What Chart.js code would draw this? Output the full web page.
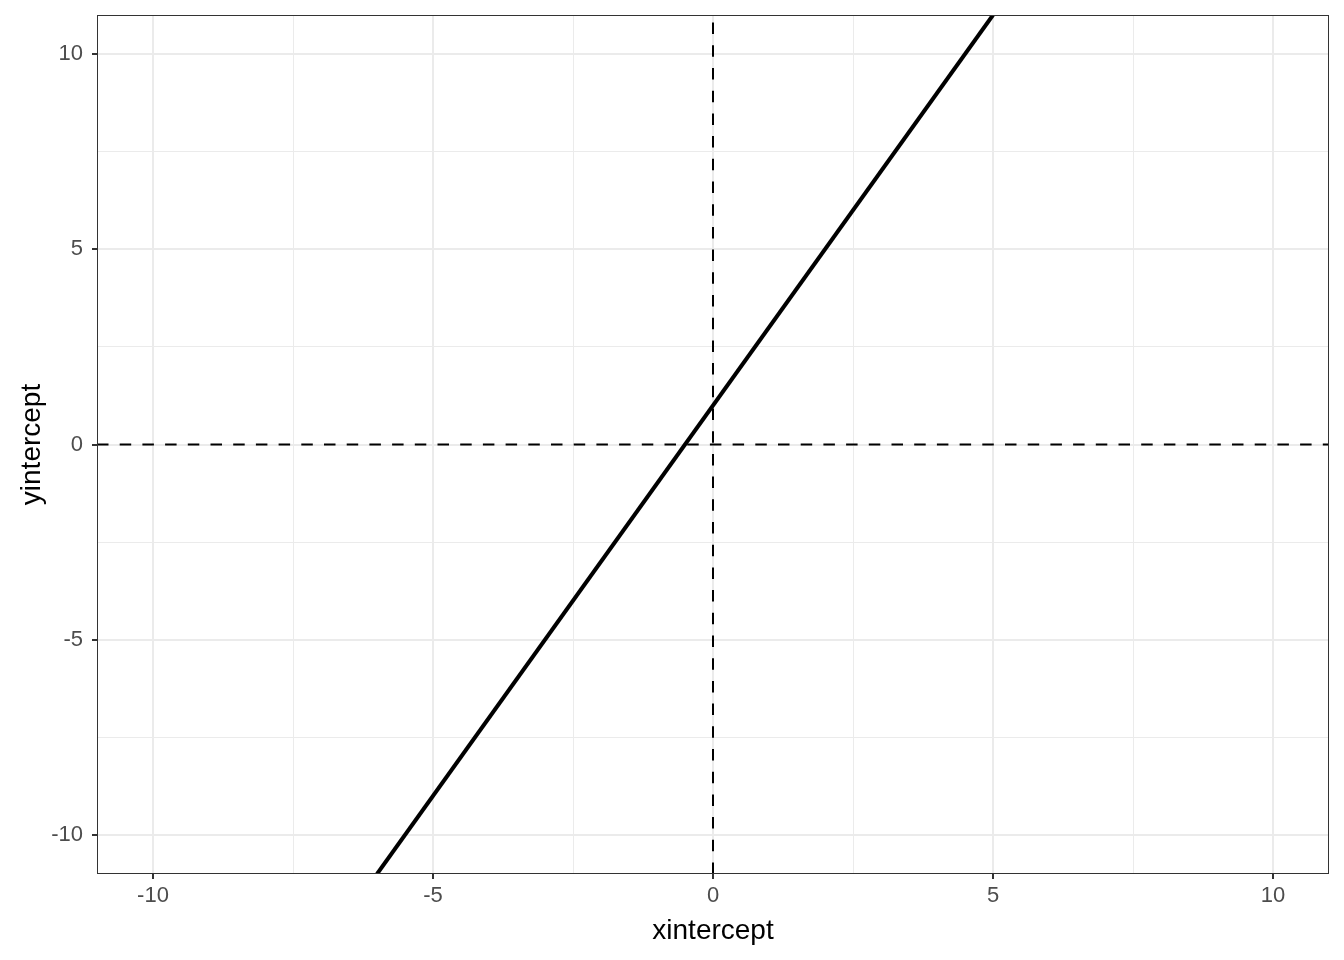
<!DOCTYPE html>
<html>
<head>
<meta charset="utf-8">
<script src="https://cdn.jsdelivr.net/npm/chart.js@4/dist/chart.umd.min.js"></script>
<style>
  html, body { margin: 0; padding: 0; background: #fff; }
  #wrap { width: 1344px; height: 960px; }
</style>
</head>
<body>
<div id="wrap"><canvas id="chart" width="1344" height="960"></canvas></div>
<script>
// slanted line y = 2x + 1 at the panel edges
const lineX = [-6, 5]
const lineY = [-11, 11]

// dashed reference lines
const vlineX = [0, 0]
const vlineY = [-11, 11]
const hlineX = [-11, 11]
const hlineY = [0, 0]

const axisMin = -11
const axisMax = 11
const gridStep = 2.5
const labelStep = 5

const toPoints = (xs, ys) => xs.map((x, i) => ({ x: x, y: ys[i] }))
const isMajor = (v) => Math.abs(v % labelStep) < 1e-9

const FONT = "'Liberation Sans', Arial, Helvetica, sans-serif"

// panel border like theme_bw
const panelBorder = {
  id: "panelBorder",
  afterDatasetsDraw(chart) {
    const { ctx, chartArea: a } = chart
    ctx.save()
    ctx.strokeStyle = "#333333"
    ctx.lineWidth = 1
    ctx.strokeRect(a.left + 0.5, a.top + 0.5, a.right - a.left - 1, a.bottom - a.top - 1)
    ctx.restore()
  },
}

const gridOpts = {
  color: "#ebebeb",
  lineWidth: (c) => (c.tick && isMajor(c.tick.value) ? 2 : 1),
  drawTicks: true,
  tickLength: 5,
  tickWidth: 2,
  tickColor: (c) => (c.tick && isMajor(c.tick.value) ? "#333333" : "rgba(0,0,0,0)"),
}

const tickOpts = {
  stepSize: gridStep,
  includeBounds: false,
  autoSkip: false,
  maxRotation: 0,
  color: "#4d4d4d",
  font: { family: FONT, size: 22 },
  callback: (value) => (isMajor(value) ? String(value) : ""),
}

const dashed = [11.5, 11.2]

new Chart(document.getElementById("chart"), {
  type: "scatter",
  data: {
    datasets: [
      {
        data: toPoints(vlineX, vlineY),
        showLine: true,
        borderColor: "#000000",
        borderWidth: 2,
        borderDash: dashed,
        pointRadius: 0,
      },
      {
        data: toPoints(hlineX, hlineY),
        showLine: true,
        borderColor: "#000000",
        borderWidth: 2,
        borderDash: dashed,
        pointRadius: 0,
      },
      {
        data: toPoints(lineX, lineY),
        showLine: true,
        borderColor: "#000000",
        borderWidth: 4,
        pointRadius: 0,
      },
    ],
  },
  options: {
    responsive: false,
    animation: false,
    layout: { padding: { top: 15, right: 15, left: 0, bottom: 0 } },
    plugins: {
      legend: { display: false },
      tooltip: { enabled: false },
    },
    scales: {
      x: {
        type: "linear",
        min: axisMin,
        max: axisMax,
        grid: gridOpts,
        border: { display: false },
        ticks: { ...tickOpts, padding: 4 },
        title: {
          display: true,
          text: "xintercept",
          color: "#000000",
          font: { family: FONT, size: 28 },
          padding: { top: 0, bottom: 12 },
        },
        afterFit: (scale) => {
          scale.height = 86
        },
      },
      y: {
        type: "linear",
        min: axisMin,
        max: axisMax,
        grid: gridOpts,
        border: { display: false },
        ticks: { ...tickOpts, padding: 9 },
        title: {
          display: true,
          text: "yintercept",
          color: "#000000",
          font: { family: FONT, size: 28 },
          padding: { top: 15, bottom: 0 },
        },
        afterFit: (scale) => {
          scale.width = 97
          scale.paddingTop = 0
          scale.paddingBottom = 0
        },
      },
    },
  },
  plugins: [panelBorder],
})
</script>
</body>
</html>
